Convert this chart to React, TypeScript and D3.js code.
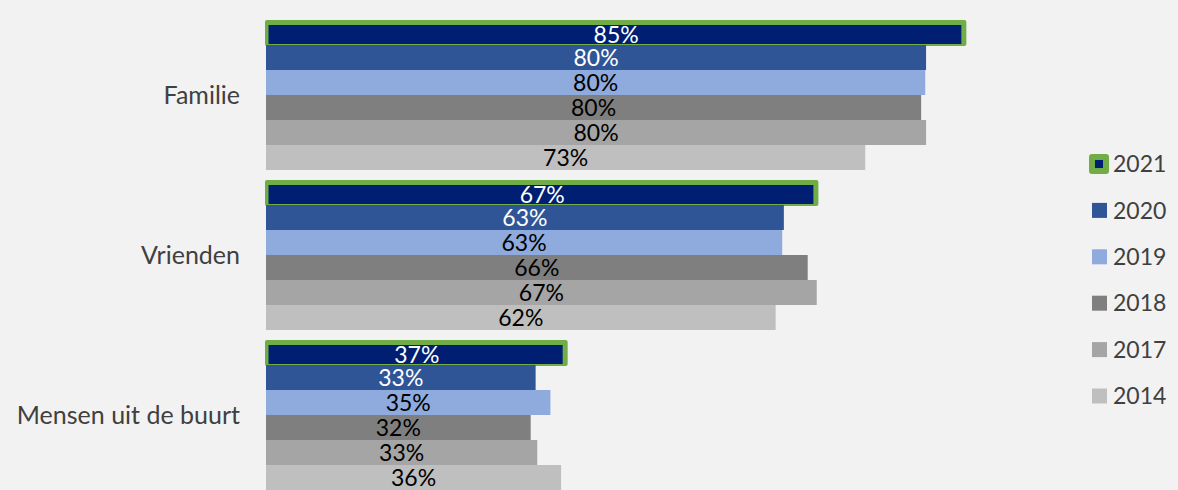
import React from "react";
import * as d3 from "d3";

const categories = ["Familie", "Vrienden", "Mensen uit de buurt"];
const years = ["2021", "2020", "2019", "2018", "2017", "2014"];
const v2021 = [85.2, 67.2, 36.7];
const v2020 = [80.3, 63.0, 32.8];
const v2019 = [80.2, 62.8, 34.6];
const v2018 = [79.7, 65.9, 32.2];
const v2017 = [80.3, 67.0, 33.0];
const v2014 = [72.9, 62.0, 35.9];
const seriesValues = [v2021, v2020, v2019, v2018, v2017, v2014];
const colors = ["#001f73", "#2f5597", "#8faadc", "#7f7f7f", "#a5a5a5", "#bfbfbf"];
const labelColors = ["#ffffff", "#ffffff", "#000000", "#000000", "#000000", "#000000"];
const highlight = "#70ad47";

const W = 1178;
const H = 490;
const FONT = "Lato, 'Open Sans', sans-serif";

export default function App() {
  const x = d3.scaleLinear().domain([0, 100]).range([266, 266 + 822]);
  const y = d3
    .scaleBand<string>()
    .domain(categories)
    .range([15, 495])
    .paddingInner(0.0625)
    .paddingOuter(0.03125);
  const yi = d3.scaleBand<string>().domain(years).range([0, y.bandwidth()]);
  const legendY = d3.scalePoint<string>().domain(years).range([164, 396]);

  return (
    <svg
      width={W}
      height={H}
      style={{ position: "absolute", left: 0, top: 0, fontFamily: FONT }}
    >
      <rect x={0} y={0} width={W} height={H} fill="#f2f2f2" />
      {categories.map((c, ci) => {
        const gy = y(c)!;
        return (
          <g key={c}>
            <text
              x={240}
              y={gy + y.bandwidth() / 2}
              dy="0.36em"
              textAnchor="end"
              fontSize={25}
              fill="#404040"
            >
              {c}
            </text>
            {years.map((yr, si) => {
              const v = seriesValues[si][ci];
              const by = gy + yi(yr)!;
              const bh = yi.bandwidth();
              const x0 = x(0);
              const x1 = x(v);
              if (si === 0) {
                const iy = by + 5;
                const ih = bh - 6;
                return (
                  <g key={yr}>
                    <rect x={x0 - 1} y={by} width={x1 - x0 + 1} height={bh + 1} rx={2} fill={highlight} />
                    <rect x={x0 + 2.5} y={iy} width={x1 - x0 - 7.5} height={ih} fill={colors[si]} />
                    <text
                      x={(x0 + x1) / 2}
                      y={iy + ih / 2}
                      dy="0.36em"
                      textAnchor="middle"
                      fontSize={23}
                      fill={labelColors[si]}
                    >
                      {Math.round(v)}%
                    </text>
                  </g>
                );
              }
              return (
                <g key={yr}>
                  <rect x={x0} y={by} width={x1 - x0} height={bh} fill={colors[si]} />
                  <text
                    x={(x0 + x1) / 2}
                    y={by + bh / 2}
                    dy="0.36em"
                    textAnchor="middle"
                    fontSize={23}
                    fill={labelColors[si]}
                  >
                    {Math.round(v)}%
                  </text>
                </g>
              );
            })}
          </g>
        );
      })}
      {years.map((yr, si) => {
        const cy = legendY(yr)!;
        return (
          <g key={yr}>
            {si === 0 ? (
              <>
                <rect x={1089} y={cy - 10} width={20} height={20} rx={3} fill={highlight} />
                <rect x={1095} y={cy - 4} width={8} height={8} fill={colors[si]} />
              </>
            ) : (
              <rect x={1092} y={cy - 7.5} width={15} height={15} fill={colors[si]} />
            )}
            <text x={1113} y={cy} dy="0.36em" fontSize={23} fill="#404040">
              {yr}
            </text>
          </g>
        );
      })}
    </svg>
  );
}
